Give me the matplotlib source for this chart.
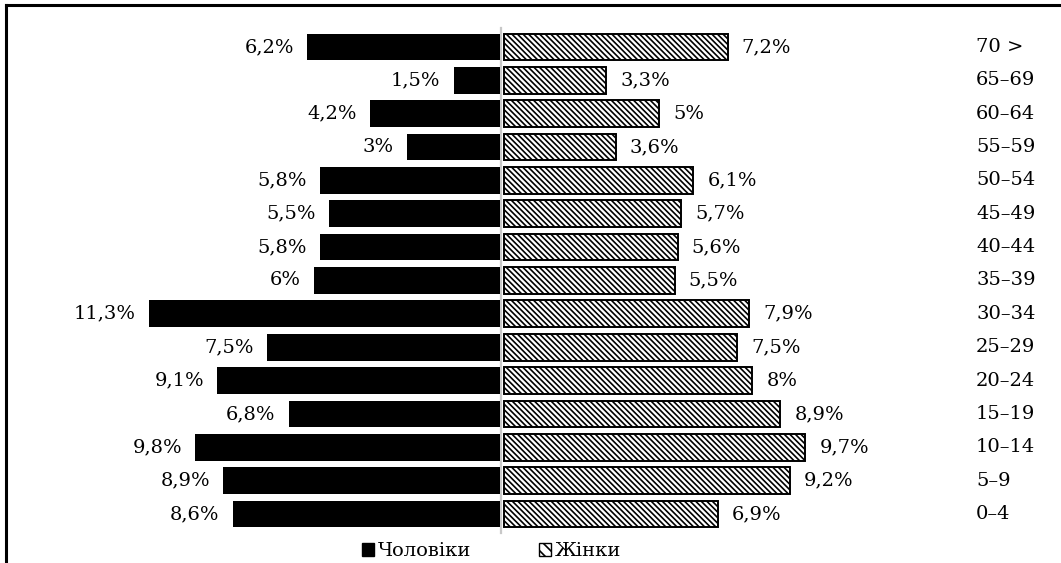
import matplotlib
matplotlib.use("Agg")
import matplotlib.pyplot as plt
from matplotlib.patches import Patch
from matplotlib.lines import Line2D

plt.rcParams['font.family'] = ['DejaVu Serif', 'Liberation Serif']
plt.rcParams['hatch.linewidth'] = 1.2

ages = ["70 >", "65–69", "60–64", "55–59", "50–54", "45–49", "40–44", "35–39",
        "30–34", "25–29", "20–24", "15–19", "10–14", "5–9", "0–4"]
men = [6.2, 1.5, 4.2, 3, 5.8, 5.5, 5.8, 6, 11.3, 7.5, 9.1, 6.8, 9.8, 8.9, 8.6]
women = [7.2, 3.3, 5, 3.6, 6.1, 5.7, 5.6, 5.5, 7.9, 7.5, 8, 8.9, 9.7, 9.2, 6.9]
men_name = "Чоловіки"
women_name = "Жінки"

def fmt(v):
    s = ("%g" % v).replace(".", ",")
    return s + "%"

fig = plt.figure(figsize=(10.61, 5.63), dpi=100)
ax = fig.add_axes([0, 0, 1, 1])
ax.set_xlim(-16.11, 18.0)
ax.set_ylim(15.47, -1.409)
ax.axis('off')

ypos = list(range(len(ages)))
h = 0.8
fs = 14
HATCH = '\\\\\\\\\\\\'

ax.barh(ypos, [-m for m in men], height=h, left=-0.03, color='black', edgecolor='black', linewidth=0)
ax.barh(ypos, women, height=h, left=0.08, color='white', edgecolor='black',
        hatch=HATCH, linewidth=1.4)

ax.plot([0, 0], [-0.57, 14.57], color='#c8c8c8', linewidth=1.6, zorder=0)

for y, m, w, a in zip(ypos, men, women, ages):
    ax.text(-m - 0.45, y, fmt(m), ha='right', va='center', fontsize=fs)
    ax.text(w + 0.08 + 0.45, y, fmt(w), ha='left', va='center', fontsize=fs)
    ax.text(15.27, y, a, ha='left', va='center', fontsize=fs)

handles = [Patch(facecolor='black', edgecolor='black', label=men_name),
           Patch(facecolor='white', edgecolor='black', hatch='\\\\\\', label=women_name)]
fig.legend(handles=handles, loc='center', bbox_to_anchor=(0.463, 0.021), ncol=2,
           frameon=False, fontsize=fs, handlelength=0.65, handleheight=0.65,
           handletextpad=0.15, columnspacing=3.5, borderpad=0)

# frame (top and left)
fig.add_artist(Line2D([5.5/1061, 1], [1 - 5/563, 1 - 5/563], color='black', linewidth=2.2,
                      transform=fig.transFigure))
fig.add_artist(Line2D([5.5/1061, 5.5/1061], [0, 1 - 5/563], color='black', linewidth=2.2,
                      transform=fig.transFigure))

fig.savefig("out.png", dpi=100)
